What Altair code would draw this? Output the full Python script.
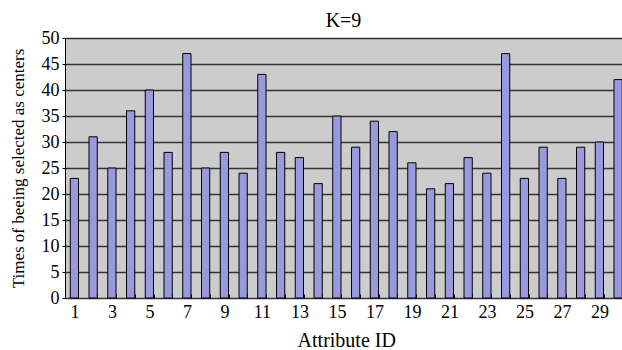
import altair as alt
import pandas as pd

attribute_ids = list(range(1, 31))
times_selected = [23, 31, 25, 36, 40, 28, 47, 25, 28, 24,
                  43, 28, 27, 22, 35, 29, 34, 32, 26, 21,
                  22, 27, 24, 47, 23, 29, 23, 29, 30, 42]
y_ticks = [0, 5, 10, 15, 20, 25, 30, 35, 40, 45, 50]

df = pd.DataFrame({"id": attribute_ids, "times": times_selected})

FONT = "'Liberation Serif', 'Times New Roman', serif"

x_enc = alt.X(
    "id:O",
    sort=attribute_ids,
    scale=alt.Scale(range=[0, 562.5], paddingInner=0.56, paddingOuter=0.28),
    axis=alt.Axis(
        title="Attribute ID",
        titleFont=FONT, titleFontSize=20, titleFontWeight="normal", titleColor="black",
        titlePadding=9,
        labelFont=FONT, labelFontSize=18, labelColor="black", labelAngle=0,
        labelExpr="datum.value % 2 == 1 ? datum.label : ''",
        labelOverlap=False, labelPadding=5,
        tickBand="extent", tickSize=4, tickColor="black", tickWidth=1,
        offset=-4, domain=False, grid=False,
    ),
)

bars = alt.Chart(df).mark_bar(
    fill="#9999dd", stroke="black", strokeWidth=1
).encode(
    x=x_enc,
    y=alt.Y(
        "times:Q",
        scale=alt.Scale(domain=[0, 50], nice=False),
        axis=alt.Axis(
            title="Times of beeing selected as centers",
            titleFont=FONT, titleFontSize=17, titleFontWeight="normal", titleColor="black",
            titlePadding=14,
            labelFont=FONT, labelFontSize=18, labelColor="black", labelPadding=3,
            values=y_ticks, tickSize=3, tickColor="black",
            domain=True, domainColor="black", domainWidth=1,
            grid=True, gridColor="#333333", gridWidth=1.5, gridOpacity=1,
        ),
    ),
)

chart = bars.properties(
    width=557,
    height=260,
    padding={"left": 65, "top": 38, "right": 0, "bottom": 52},
    autosize=alt.AutoSizeParams(type="none"),
    title=alt.TitleParams("K=9", font=FONT, fontSize=20, fontWeight="normal",
                          color="black", anchor="middle", offset=10, dy=12),
).configure(
    background="white"
).configure_view(
    fill="#cccccc", stroke=None
)

chart.save("out.html", embed_options={"renderer": "svg", "actions": False})
